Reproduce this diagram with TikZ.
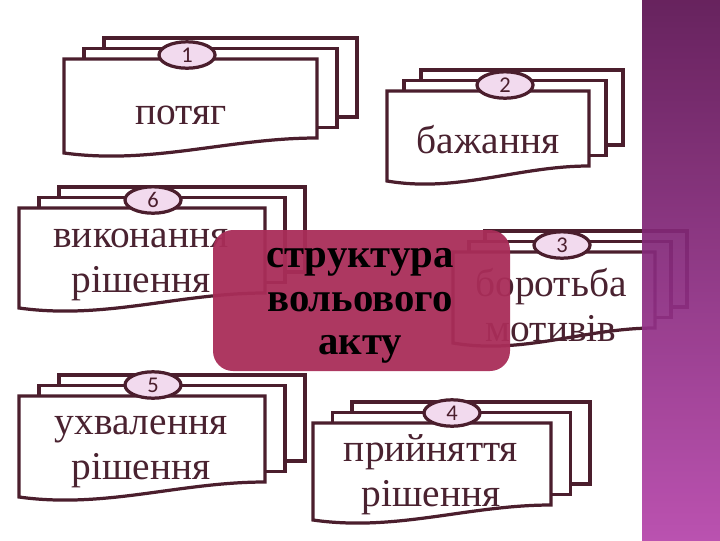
\documentclass[tikz,border=0pt]{standalone}
\usepackage{fontspec}
\setmainfont{Liberation Serif}
\newfontfamily\numfont{Carlito}
\usepackage{tikz}
\usetikzlibrary{shapes.geometric}

\definecolor{docline}{HTML}{4B1E2D}
\definecolor{doctxt}{HTML}{4A2230}
\definecolor{ovalfill}{HTML}{F2DAEE}
\definecolor{corefill}{HTML}{A92D59}
\definecolor{striptop}{HTML}{5C1252}
\definecolor{stripbot}{HTML}{B545AA}

\tikzset{
  docpage/.style={draw=docline, line width=2.3pt, fill=white, line join=miter},
  numoval/.style={ellipse, draw=docline, line width=2.3pt, fill=ovalfill,
    minimum width=1.4cm, minimum height=0.66cm, inner sep=0pt,
    font=\numfont\fontsize{16}{16}\selectfont, text=docline},
  doctext/.style={align=center, text=doctxt, inner sep=0pt,
    font=\fontsize{28}{32}\selectfont},
  coretext/.style={align=center, text=black, inner sep=0pt,
    font=\bfseries\fontsize{29}{31}\selectfont}
}

% #1 left, #2 top, #3 width, #4 height, #5 step to the right
\newcommand{\docstack}[5]{%
  \draw[docpage] (#1+2*#5,#2-21) rectangle ++(#3,#4);
  \draw[docpage] (#1+#5,#2-10.5) rectangle ++(#3,#4);
  \draw[docpage] (#1,#2) -- ++(#3,0) -- ++(0,#4)
    .. controls +(-0.35*#3,0) and (#1+0.35*#3,#2+#4+27) .. (#1,#2+#4+15) -- cycle;
}

\begin{document}
\begin{tikzpicture}[x=0.025cm, y=-0.025cm]
\useasboundingbox (0,0) rectangle (720,540);

\docstack{64}{59}{253}{79}{20}
\node[numoval] (n1) at (187,55) {1};
\node[doctext] (t1) at (181,115) {потяг};

\docstack{387}{91}{202}{75}{17}
\node[numoval] (n2) at (505,85) {2};
\node[doctext] (t2) at (488,140) {бажання};

\docstack{19}{208}{246}{85}{20}
\node[numoval] (n6) at (153,200) {6};
\node[doctext] (t6) at (141,265) {виконання\\рішення};

\docstack{19}{396}{246}{86}{20}
\node[numoval] (n5) at (153,385) {5};
\node[doctext] (t5) at (141,452) {ухвалення\\рішення};

\docstack{313}{423}{238}{82}{19.5}
\node[numoval] (n4) at (452,413) {4};
\node[doctext] (t4) at (431,475) {прийняття\\рішення};

\docstack{453}{252}{202}{76}{16}
\node[numoval] (n3) at (562,245) {3};
\node[doctext] (t3) at (551,305) {боротьба\\мотивів};

\fill[corefill, fill opacity=0.95, rounded corners=0.5cm] (213,230) rectangle (510,371);
\node[coretext] (core) at (360,306) {структура\\вольового\\акту};

\shade[top color=striptop, bottom color=stripbot, opacity=0.93] (642,0) rectangle (720,540);
\end{tikzpicture}
\end{document}
